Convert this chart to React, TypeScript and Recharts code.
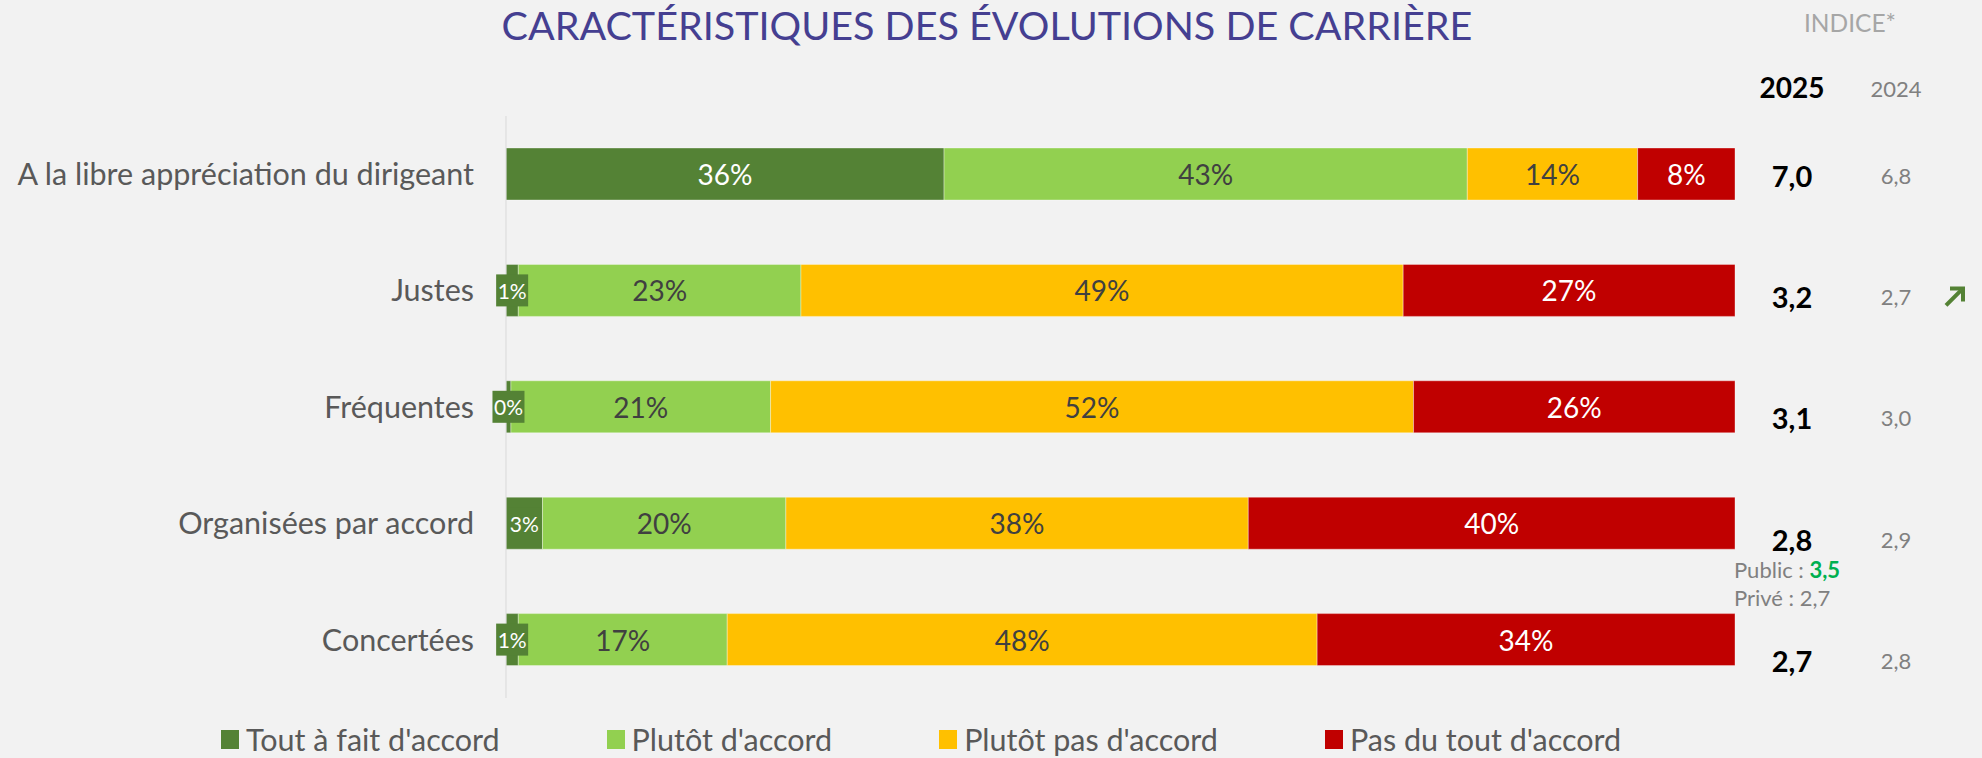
import React from 'react'
import { BarChart, Bar, XAxis, YAxis, LabelList } from 'recharts'

// Caractéristiques des évolutions de carrière (% de réponses)
const categories = [
  'A la libre appréciation du dirigeant',
  'Justes',
  'Fréquentes',
  'Organisées par accord',
  'Concertées'
]
const toutAFait = [36, 1, 0.4, 3, 1]
const plutotAccord = [43, 23, 21, 20, 17]
const plutotPas = [14, 49, 52, 38, 48]
const pasDuTout = [8, 27, 26, 40, 34]

const indice2025 = ['7,0', '3,2', '3,1', '2,8', '2,7']
const indice2024 = ['6,8', '2,7', '3,0', '2,9', '2,8']
const tendance = ['', 'hausse', '', '', '']

const seriesKeys = ['toutAFait', 'plutotAccord', 'plutotPas', 'pasDuTout']
const seriesNames = ["Tout à fait d'accord", "Plutôt d'accord", "Plutôt pas d'accord", "Pas du tout d'accord"]
const seriesColors = ['#548235', '#92D050', '#FFC000', '#C00000']
const labelColors = ['#FFFFFF', '#404040', '#404040', '#FFFFFF']

const data = categories.map((name, i) => ({
  name,
  toutAFait: toutAFait[i],
  plutotAccord: plutotAccord[i],
  plutotPas: plutotPas[i],
  pasDuTout: pasDuTout[i]
}))

const FONT = 'Lato, "Open Sans", sans-serif'

const box = (props: any) => props.viewBox ?? props

// percentage label; small segments get a boxed label like in Excel
const makePctLabel = (s: number) => (props: any) => {
  const { x, y, width, height } = box(props)
  const cx = x + width / 2
  const cy = y + height / 2
  const small = width < 40
  return (
    <g>
      {s === 0 && small && (
        <rect x={cx - 16} y={cy - 16} width={32} height={32} fill={seriesColors[0]} />
      )}
      <text
        x={cx}
        y={cy}
        textAnchor="middle"
        dominantBaseline="central"
        fill={labelColors[s]}
        fontSize={small ? 21 : 28}
        fontFamily={FONT}
      >
        {Math.round(Number(props.value))}%
      </text>
    </g>
  )
}

// index columns drawn to the right of each bar
const IndiceLabel = (props: any) => {
  const { x, y, width, height } = box(props)
  const i = props.index
  const end = x + width
  const cy = y + height / 2 + 1 + i * 5
  return (
    <g fontFamily={FONT}>
      <text x={end + 57} y={cy} textAnchor="middle" dominantBaseline="central" fontSize={29} fontWeight={700} fill="#000">
        {indice2025[i]}
      </text>
      <text x={end + 161} y={cy} textAnchor="middle" dominantBaseline="central" fontSize={22} fill="#808080">
        {indice2024[i]}
      </text>
      {tendance[i] === 'hausse' && (
        <g stroke="#548235" strokeWidth={4} fill="none">
          <line x1={end + 211} y1={cy + 9} x2={end + 226} y2={cy - 6} />
          <polyline points={`${end + 215},${cy - 8} ${end + 228},${cy - 8} ${end + 228},${cy + 5}`} />
        </g>
      )}
      {i === 3 && (
        <g fontSize={22} fill="#808080">
          <text x={end - 1} y={cy + 39}>
            Public : <tspan fill="#00B050" fontWeight={700}>3,5</tspan>
          </text>
          <text x={end - 1} y={cy + 67}>Privé : 2,7</text>
        </g>
      )}
    </g>
  )
}

const App: React.FC = () => {
  return (
    <div
      style={{
        position: 'absolute',
        left: 0,
        top: 0,
        width: 1982,
        height: 758,
        background: '#F2F2F2',
        fontFamily: FONT,
        overflow: 'hidden'
      }}
    >
      <BarChart
        width={1982}
        height={758}
        data={data}
        layout="vertical"
        stackOffset="expand"
        barSize={52}
        margin={{ top: 116, right: 247, bottom: 60, left: 0 }}
      >
        <XAxis type="number" hide domain={[0, 1]} />
        <YAxis
          type="category"
          dataKey="name"
          width={506}
          interval={0}
          tickLine={false}
          tickMargin={26}
          axisLine={{ stroke: '#D9D9D9' }}
          tick={{ fill: '#595959', fontSize: 30.5, fontFamily: FONT }}
        />
        {seriesKeys.map((key, s) => (
          <Bar
            key={key}
            dataKey={key}
            name={seriesNames[s]}
            stackId="a"
            fill={seriesColors[s]}
            stroke="#FFFFFF"
            strokeOpacity={0.35}
            strokeWidth={1}
            isAnimationActive={false}
          >
            <LabelList dataKey={key} content={makePctLabel(s)} />
            {s === seriesKeys.length - 1 && <LabelList dataKey={key} content={IndiceLabel} />}
          </Bar>
        ))}
      </BarChart>

      <svg width={1982} height={110} style={{ position: 'absolute', left: 0, top: 0 }} fontFamily={FONT}>
        <text x={987} y={40} textAnchor="middle" fontSize={39.5} fill="#453F91">
          CARACTÉRISTIQUES DES ÉVOLUTIONS DE CARRIÈRE
        </text>
        <text x={1850} y={32} textAnchor="middle" fontSize={24.5} fill="#A6A6A6">
          INDICE*
        </text>
        <text x={1792} y={98} textAnchor="middle" fontSize={28} fontWeight={700} fill="#000">
          2025
        </text>
        <text x={1896} y={97} textAnchor="middle" fontSize={22} fill="#808080">
          2024
        </text>
      </svg>

      <div
        style={{
          position: 'absolute',
          left: 221,
          top: 721,
          display: 'flex',
          gap: 107,
          alignItems: 'center',
          fontSize: 30.5,
          color: '#595959',
          whiteSpace: 'nowrap'
        }}
      >
        {seriesNames.map((n, s) => (
          <div key={n} style={{ display: 'flex', alignItems: 'center', gap: 7 }}>
            <span style={{ width: 18, height: 19, background: seriesColors[s], display: 'inline-block' }} />
            <span>{n}</span>
          </div>
        ))}
      </div>
    </div>
  )
}

export default App
